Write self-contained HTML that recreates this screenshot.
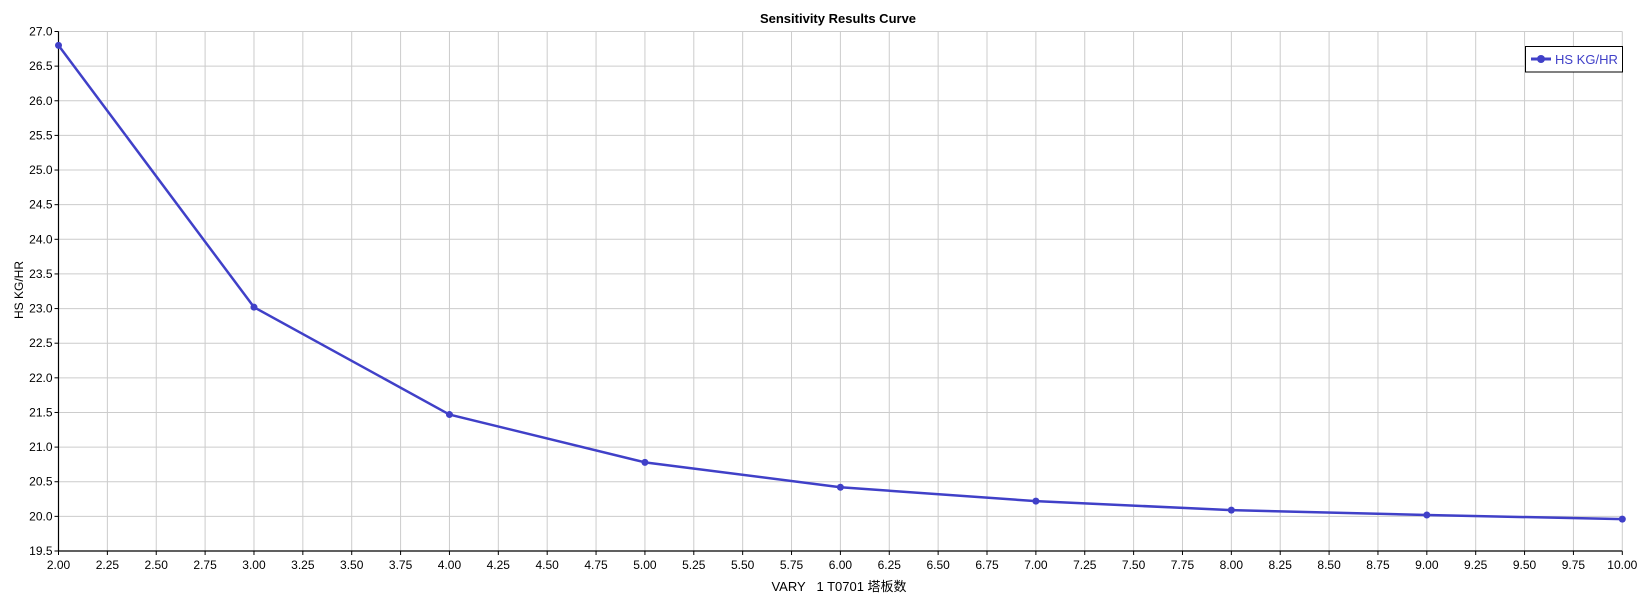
<!DOCTYPE html>
<html><head><meta charset="utf-8"><style>
html,body{margin:0;padding:0;background:#fff;}
svg{display:block;font-family:"Liberation Sans","Noto Sans CJK SC",sans-serif;}
</style></head><body>
<svg id="c" width="1644" height="598" xmlns="http://www.w3.org/2000/svg"></svg>
<script>
var s=document.getElementById('c'),h='';
var L=58.5,R=1622.3,T=31.5,B=551;
function X(v){return L+(v-2)/8*(R-L);}
function Y(v){return B-(v-19.5)/7.5*(B-T);}
for(var i=0;i<=32;i++){var v=2+i*0.25,x=X(v);
 h+='<line x1="'+x+'" y1="'+T+'" x2="'+x+'" y2="'+B+'" stroke="#cccccc" stroke-width="1"/>';
 h+='<line x1="'+x+'" y1="'+B+'" x2="'+x+'" y2="'+(B+4)+'" stroke="#000"/>';
 h+='<text x="'+x+'" y="569" font-size="12" text-anchor="middle">'+v.toFixed(2)+'</text>';}
for(var j=0;j<=15;j++){var v=19.5+j*0.5,y=Y(v);
 h+='<line x1="'+L+'" y1="'+y+'" x2="'+R+'" y2="'+y+'" stroke="#cccccc" stroke-width="1"/>';
 h+='<line x1="'+(L-4)+'" y1="'+y+'" x2="'+L+'" y2="'+y+'" stroke="#000"/>';
 h+='<text x="'+(L-6)+'" y="'+(y+4)+'" font-size="12" text-anchor="end">'+v.toFixed(1)+'</text>';}
h+='<line x1="'+L+'" y1="'+T+'" x2="'+L+'" y2="'+B+'" stroke="#000" stroke-width="1.2"/>';
h+='<line x1="'+L+'" y1="'+B+'" x2="'+R+'" y2="'+B+'" stroke="#000" stroke-width="1.2"/>';
var d=[26.8,23.02,21.47,20.78,20.42,20.22,20.09,20.02,19.96],p='';
for(var k=0;k<d.length;k++)p+=(k?' ':'')+X(2+k)+','+Y(d[k]);
h+='<polyline points="'+p+'" fill="none" stroke="#4040c8" stroke-width="2.5" stroke-linejoin="round"/>';
for(var k=0;k<d.length;k++)h+='<circle cx="'+X(2+k)+'" cy="'+Y(d[k])+'" r="3.5" fill="#4040c8"/>';
h+='<text x="838" y="23" font-size="13" font-weight="bold" text-anchor="middle">Sensitivity Results Curve</text>';
h+='<text x="839" y="591" font-size="13" text-anchor="middle">VARY&#160;&#160; 1 T0701 塔板数</text>';
h+='<text transform="translate(23,290) rotate(-90)" font-size="12" text-anchor="middle">HS KG/HR</text>';
h+='<rect x="1525.5" y="46.5" width="97" height="25.5" fill="#fff" stroke="#000" stroke-width="1"/>';
h+='<line x1="1531" y1="59" x2="1551" y2="59" stroke="#4040c8" stroke-width="3"/><circle cx="1541" cy="59" r="4" fill="#4040c8"/>';
h+='<text x="1555" y="64" font-size="13" fill="#4040c8">HS KG/HR</text>';
s.innerHTML=h;
</script>
</body></html>
